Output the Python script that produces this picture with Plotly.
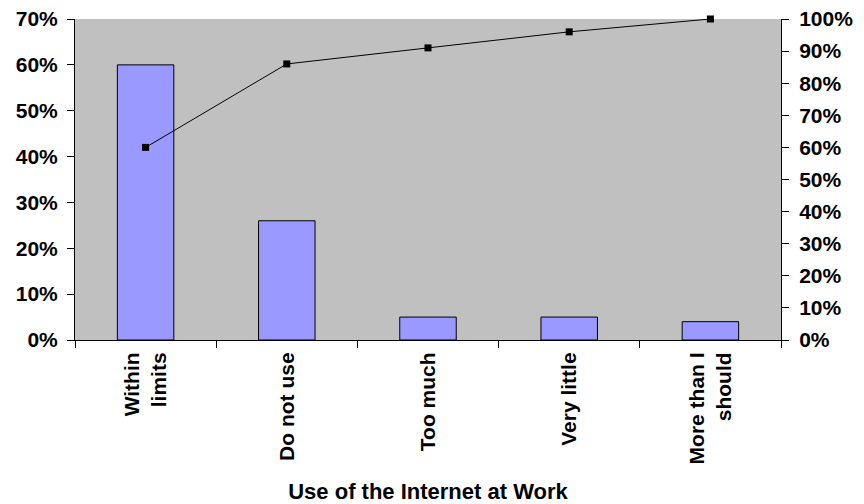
import plotly.graph_objects as go

categories = ["Within<br>limits", "Do not use", "Too much", "Very little", "More than I<br>should"]
shares = [0.60, 0.26, 0.05, 0.05, 0.04]
cumulative = [0.60, 0.86, 0.91, 0.96, 1.00]
left_ticks = [0, 0.1, 0.2, 0.3, 0.4, 0.5, 0.6, 0.7]
right_ticks = [0, 0.1, 0.2, 0.3, 0.4, 0.5, 0.6, 0.7, 0.8, 0.9, 1.0]

FONT = dict(family="Liberation Sans, Arial, sans-serif", size=21, color="black", weight="bold")
TITLE_FONT = dict(family="Liberation Sans, Arial, sans-serif", size=22, color="black", weight="bold")

fig = go.Figure()
fig.add_trace(go.Bar(
    x=categories, y=shares, width=0.4,
    marker=dict(color="#9999FF", line=dict(color="black", width=1)),
    yaxis="y", xaxis="x", hoverinfo="skip",
))
fig.add_trace(go.Scatter(
    x=categories, y=cumulative, mode="lines+markers",
    line=dict(color="black", width=1),
    marker=dict(symbol="square", size=7, color="black"),
    yaxis="y2", xaxis="x", hoverinfo="skip", cliponaxis=False,
))

fig.update_layout(
    width=864, height=504,
    margin=dict(l=75, r=83, t=19, b=164, autoexpand=False),
    paper_bgcolor="white",
    plot_bgcolor="#C0C0C0",
    showlegend=False,
    font=FONT,
    xaxis=dict(
        type="category",
        categoryarray=categories, categoryorder="array",
        tickangle=-90,
        ticks="outside", ticklen=7, tickcolor="black", tickwidth=1,
        tickson="boundaries",
        showline=True, linecolor="black", linewidth=1,
        showgrid=False, zeroline=False,
        tickfont=FONT,
        ticklabelstandoff=3,
        title=dict(text="Use of the Internet at Work", font=TITLE_FONT, standoff=22),
    ),
    yaxis=dict(
        range=[0, 0.7], tickvals=left_ticks, tickformat=".0%",
        ticks="outside", ticklen=7, tickcolor="black",
        showline=True, linecolor="black", linewidth=1,
        showgrid=False, zeroline=False, tickfont=FONT,
        ticklabelstandoff=5,
    ),
    yaxis2=dict(
        range=[0, 1.0], tickvals=right_ticks, tickformat=".0%",
        overlaying="y", side="right", anchor="x",
        ticks="outside", ticklen=7, tickcolor="black",
        showline=True, linecolor="black", linewidth=1,
        showgrid=False, zeroline=False, tickfont=FONT,
        ticklabelstandoff=6,
    ),
)

fig.write_html("out.html")
